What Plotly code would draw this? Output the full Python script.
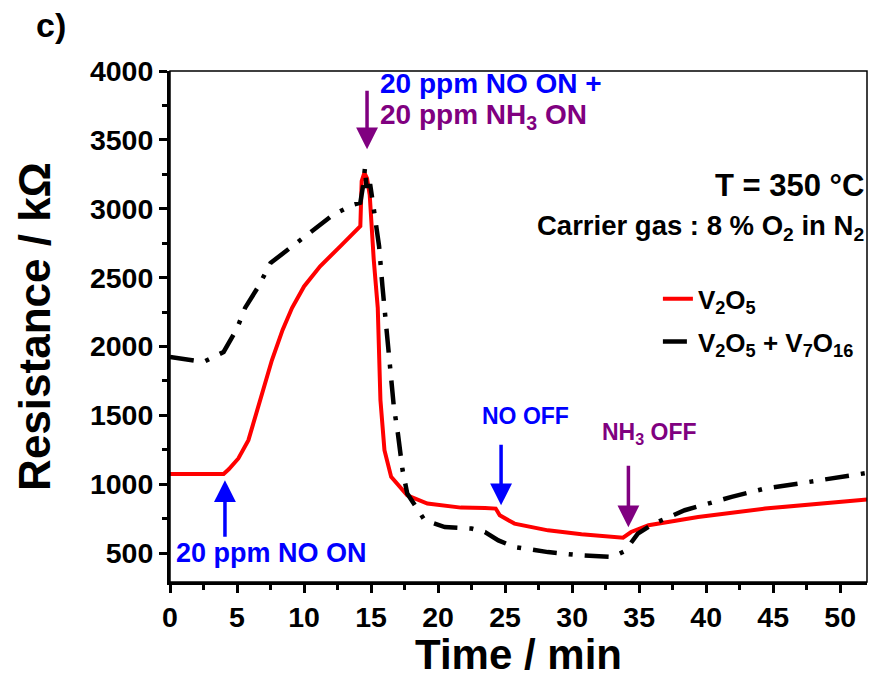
import plotly.graph_objects as go

# ---------------- data ----------------
t_v2o5 = [0, 4.0, 4.4, 5.1, 5.85, 6.74, 7.6, 8.4, 9.1, 10.0, 11.2, 12.7, 13.7, 14.2,
          14.3, 14.5, 14.7, 14.9, 15.2, 15.5, 15.7, 16.0, 16.5, 17.7, 19.2, 21.7,
          23.5, 24.3, 24.6, 25.7, 28.2, 30.7, 33.8, 34.4, 35.7, 39.4, 44.4, 46.9, 52.0]
r_v2o5 = [1075, 1075, 1110, 1187, 1320, 1611, 1900, 2120, 2279, 2436, 2582, 2727, 2825, 2873,
          3200, 3261, 3220, 3100, 2630, 2281, 1611, 1247, 1053, 920, 860, 830,
          828, 823, 774, 714, 665, 636, 612, 653, 702, 762, 823, 847, 889]

t_mix = [0, 2.5, 4.0, 5.0, 5.6, 6.6, 7.5, 9.0, 10.5, 12.2, 13.7, 14.2, 14.4, 14.55, 14.65,
         14.95, 15.2, 15.6, 15.85, 16.0, 16.7, 17.0, 17.35, 17.7, 19.0, 20.5, 22.5, 23.5,
         24.5, 25.7, 28.2, 30.7, 33.0, 33.95, 34.9, 36.0, 38.4, 41.9, 44.4, 46.9, 52.0]
r_mix = [1924, 1888, 1960, 2130, 2280, 2436, 2606, 2716, 2836, 2958, 3030, 3043, 3165, 3300, 3165,
         3165, 3000, 2727, 2436, 2279, 1562, 1369, 1102, 932, 738, 689, 678, 653,
         592, 544, 507, 483, 471, 515, 641, 709, 811, 908, 969, 1005, 1082]

series_names = ["V<sub>2</sub>O<sub>5</sub>", "V<sub>2</sub>O<sub>5</sub> + V<sub>7</sub>O<sub>16</sub>"]

x_ticks = [0, 5, 10, 15, 20, 25, 30, 35, 40, 45, 50]
y_ticks = [500, 1000, 1500, 2000, 2500, 3000, 3500, 4000]

# event markers: (time, resistance at arrow tip, pixel offset of tail, colour)
event_t = [4.1, 14.7, 24.7, 34.2]
event_r = [1029, 3431, 847, 687]
event_dy = [58, -60, -62, -63]
event_col = ["#0000FF", "#800080", "#0000FF", "#800080"]

FONT = "Liberation Sans, Arial, sans-serif"
BLUE = "#0000FF"
PURPLE = "#800080"

fig = go.Figure()
fig.add_trace(go.Scatter(x=t_v2o5, y=r_v2o5, mode="lines", name=series_names[0],
                         line=dict(color="#FF0000", width=4), legendgroup="a"))
fig.add_trace(go.Scatter(x=t_mix, y=r_mix, mode="lines", name=series_names[1],
                         line=dict(color="black", width=4.5, dash="24px,12px,4px,12px"),
                         legendgroup="b"))

for tx, ry, dy, col in zip(event_t, event_r, event_dy, event_col):
    fig.add_annotation(x=tx, y=ry, ax=0, ay=dy, text="", showarrow=True,
                       arrowhead=2, arrowsize=1.25, arrowwidth=3.5, arrowcolor=col,
                       standoff=0)

def txt(x, y, s, col, size, xanchor="left", xref="x", yref="y"):
    fig.add_annotation(x=x, y=y, xref=xref, yref=yref, text=s, showarrow=False,
                       xanchor=xanchor, yanchor="middle",
                       font=dict(family=FONT, size=size, color=col, weight="bold"))

txt(15.55, 3911, "20 ppm NO ON +", BLUE, 28)
txt(15.55, 3671, "20 ppm NH<sub>3</sub> ON", PURPLE, 28)
txt(51.9, 3169, "T = 350 °C", "black", 31, xanchor="right")
txt(51.9, 2862, "Carrier gas : 8 % O<sub>2</sub> in N<sub>2</sub>", "black", 27.5, xanchor="right")
txt(26.5, 1495, "NO OFF", BLUE, 23, xanchor="center")
txt(35.8, 1371, "NH<sub>3</sub> OFF", PURPLE, 23, xanchor="center")
txt(0.3, 497, "20 ppm NO ON", BLUE, 27)
txt(-0.195, 1.09, "c)", "black", 34, xref="paper", yref="paper")

fig.add_shape(type="rect", xref="paper", yref="paper", x0=0, x1=1, y0=0, y1=1,
              line=dict(color="black", width=1.5), layer="above")

axis_common = dict(showgrid=False, zeroline=False, showline=True, linecolor="black",
                   linewidth=3, ticks="outside", ticklen=8, tickwidth=3, tickcolor="black",
                   tickfont=dict(family=FONT, size=28.5, color="black", weight="bold"))

fig.update_layout(
    width=873, height=678,
    margin=dict(l=170, r=6, t=71, b=96, autoexpand=False),
    paper_bgcolor="white", plot_bgcolor="white",
    font=dict(family=FONT, color="black"),
    xaxis=dict(range=[0, 52], tickvals=x_ticks, **axis_common,
               minor=dict(ticks="outside", ticklen=5, tickwidth=3, dtick=2.5, tick0=0),
               title=dict(text="Time / min", standoff=10,
                          font=dict(family=FONT, size=42, color="black", weight="bold"))),
    yaxis=dict(range=[290, 4000], tickvals=y_ticks, **axis_common,
               minor=dict(ticks="outside", ticklen=5, tickwidth=3, dtick=250, tick0=0),
               title=dict(text="Resistance / kΩ", standoff=26,
                          font=dict(family=FONT, size=44, color="black", weight="bold"))),
    legend=dict(x=0.70, y=0.6, xanchor="left", yanchor="top", bgcolor="rgba(0,0,0,0)",
                font=dict(family=FONT, size=26, color="black", weight="bold"),
                tracegroupgap=6, traceorder="grouped", itemwidth=30),
    showlegend=True,
)

fig.write_html("out.html")
